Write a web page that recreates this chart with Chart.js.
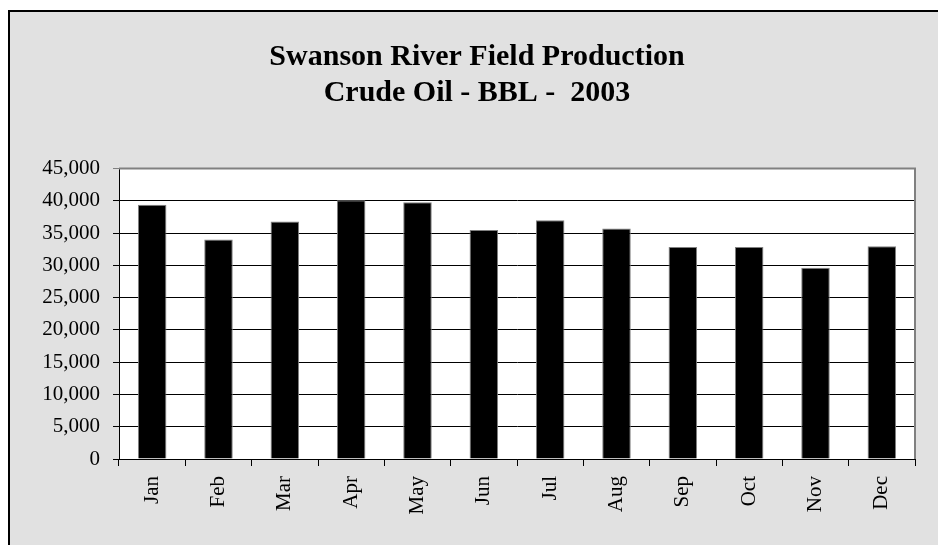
<!DOCTYPE html>
<html>
<head>
<meta charset="utf-8">
<script src="https://cdn.jsdelivr.net/npm/chart.js@4"></script>
<style>
  html, body { margin: 0; padding: 0; background: #fff; overflow: hidden; }
  #marco {
    position: absolute; left: 8px; top: 10px;
    width: 934px; height: 533px;
    border-left: 2px solid #000; border-top: 2px solid #000;
    background: #e1e1e1;
  }
  canvas { display: block; }
</style>
</head>
<body>
<div id="marco"><canvas id="grafico" width="934" height="533"></canvas></div>
<script>
// Datos
const meses = ['Jan', 'Feb', 'Mar', 'Apr', 'May', 'Jun', 'Jul', 'Aug', 'Sep', 'Oct', 'Nov', 'Dec'];
const produccion = [39400, 34000, 36800, 40100, 39800, 35500, 37000, 35700, 32850, 32850, 29650, 32950];
const titulo = ['Swanson River Field Production', 'Crude Oil - BBL -  2003'];
const ejeMin = 0;
const ejeMax = 45000;
const ejePaso = 5000;

const fuente = 'Liberation Serif, Times New Roman, serif';

// Fondo blanco del area de trazado y borde gris
const fondoArea = {
  id: 'fondoArea',
  beforeDraw(chart) {
    const { ctx, chartArea: a } = chart;
    ctx.save();
    ctx.fillStyle = '#fff';
    ctx.fillRect(a.left, a.top, a.right - a.left, a.bottom - a.top);
    ctx.restore();
  },
  afterDraw(chart) {
    const { ctx, chartArea: a } = chart;
    ctx.save();
    ctx.strokeStyle = '#808080';
    ctx.lineWidth = 2;
    ctx.beginPath();
    ctx.moveTo(a.left, a.top);
    ctx.lineTo(a.right, a.top);
    ctx.lineTo(a.right, a.bottom);
    ctx.stroke();
    ctx.restore();
  }
};

const ctx = document.getElementById('grafico').getContext('2d');
const grafico = new Chart(ctx, {
  type: 'bar',
  data: {
    labels: meses,
    datasets: [{
      label: 'Crude Oil',
      data: produccion,
      backgroundColor: '#000',
      borderColor: '#808080',
      borderWidth: 1,
      categoryPercentage: 1,
      barPercentage: 0.43
    }]
  },
  options: {
    responsive: false,
    animation: false,
    layout: { padding: { left: 29, right: 29, top: 0, bottom: 0 } },
    plugins: {
      legend: { display: false },
      tooltip: { enabled: false },
      title: {
        display: true,
        text: titulo,
        color: '#000',
        font: { family: fuente, size: 30, weight: 'bold', lineHeight: 1.21 },
        padding: { top: 27, bottom: 57 }
      }
    },
    scales: {
      x: {
        offset: true,
        grid: { display: true, drawOnChartArea: false, drawTicks: true, tickLength: 7, color: '#000', offset: true },
        border: { display: true, color: '#000', width: 1 },
        ticks: {
          color: '#000',
          font: { family: fuente, size: 21 },
          minRotation: 90,
          maxRotation: 90,
          padding: 10,
          autoSkip: false
        },
        afterFit(escala) { escala.height = 86; }
      },
      y: {
        min: ejeMin,
        max: ejeMax,
        grid: {
          color: (c) => (c.tick && c.tick.value === ejeMax) ? '#808080' : '#000',
          lineWidth: 1,
          tickLength: 6,
          drawTicks: true
        },
        border: { display: true, color: '#000', width: 1 },
        ticks: {
          stepSize: ejePaso,
          color: '#000',
          padding: 13,
          font: { family: fuente, size: 21 },
          callback: (v) => v.toLocaleString('en-US')
        },
        afterFit(escala) { escala.width = 80; }
      }
    }
  },
  plugins: [fondoArea]
});
</script>
</body>
</html>
